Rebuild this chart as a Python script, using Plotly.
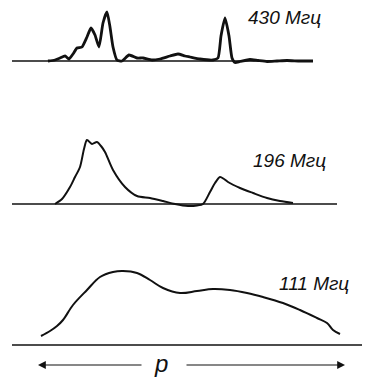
import plotly.graph_objects as go

# ---- data (position p, relative intensity) ----
p430_x = [48, 55, 60, 65, 69, 73, 77, 82, 87, 91, 95, 99, 103, 107, 110, 113, 117, 122,
          129, 137, 143, 152, 160, 170, 178, 185, 190, 200, 213, 218, 221, 225, 229, 232,
          235, 240, 250, 258, 267, 277, 287, 300, 313]
p430_y = [0, 1, 3, 5, 2, 7, 13, 14, 24, 33, 26, 14, 38, 49, 34, 14, 1, 0,
          6, 3, 3, 1, 2, 5, 7, 5, 4, 2, 1, 3, 25, 43, 25, 3,
          -1.5, -0.5, 1.5, 0.5, -0.5, 0, 0.5, 0, 0]

p196_x = [55, 62, 70, 75, 80, 84, 87, 92, 97, 101, 105, 113, 125, 137, 150, 163, 175,
          188, 197, 203, 210, 215, 220, 224, 228, 240, 253, 267, 280, 293]
p196_y = [0, 5, 17, 27, 37, 55, 64, 60, 62, 58, 52, 34, 17, 8, 6, 3, 0,
          -2, -1.5, 0, 12, 21, 27, 25, 22, 16, 11, 6, 3, 1]

p111_x = [41, 50, 57, 63, 73, 87, 100, 113, 123, 137, 150, 163, 180, 197, 213, 230,
          247, 263, 283, 300, 317, 327, 333, 340]
p111_y = [9, 14, 19, 25, 40, 55, 68, 73, 74, 72, 65, 57, 52, 54, 56, 55,
          52, 48, 42, 35, 27, 22, 15, 11]

labels = ["430 Мгц", "196 Мгц", "111 Мгц"]
baseline_start = [12, 12, 12]
baseline_end = [313, 337, 368]
axis_label = "p"

# the page body has an 8px margin, so the figure is shrunk by it
OFF = 8
W, H = 370 - OFF, 377 - OFF
INK = "#111111"


def py(ref_px):
    """reference pixel row -> paper y"""
    return 1 - (ref_px - OFF) / H


def px(ref_px):
    return (ref_px - OFF) / W


def pdom(top_px, bot_px):
    return [py(bot_px), py(top_px)]


fig = go.Figure()

series = [(p430_x, p430_y, "y", 2.8, 0.5),
          (p196_x, p196_y, "y2", 2.0, 0.8),
          (p111_x, p111_y, "y3", 2.0, 1.0)]
for i, (xs, ys, ya, lw, sm) in enumerate(series):
    fig.add_trace(go.Scatter(x=[baseline_start[i], baseline_end[i]], y=[0, 0], yaxis=ya,
                             mode="lines", line=dict(color=INK, width=1.5),
                             hoverinfo="skip", cliponaxis=False))
    fig.add_trace(go.Scatter(x=xs, y=ys, yaxis=ya, mode="lines",
                             line=dict(color=INK, width=lw, shape="spline", smoothing=sm),
                             cliponaxis=False))

ax_common = dict(visible=False, fixedrange=True)
fig.update_layout(
    width=W, height=H,
    margin=dict(l=0, r=0, t=0, b=0),
    paper_bgcolor="white", plot_bgcolor="white",
    showlegend=False,
    xaxis=dict(range=[OFF, 370], domain=[0, 1], **ax_common),
    yaxis=dict(range=[-9, 53], domain=pdom(8, 70), **ax_common),
    yaxis2=dict(range=[-11, 94], domain=pdom(110, 215), anchor="x", **ax_common),
    yaxis3=dict(range=[-7, 90], domain=pdom(255, 352), anchor="x", **ax_common),
)

font_lbl = dict(family="Liberation Sans, Arial, sans-serif", size=19, color=INK, style="italic")
label_pos = [(247, 17), (252, 160), (278, 283)]
for txt, (lx, ly) in zip(labels, label_pos):
    fig.add_annotation(text=txt, xref="paper", yref="paper", x=px(lx), y=py(ly),
                       xanchor="left", yanchor="middle", showarrow=False,
                       borderpad=0, font=font_lbl)

# p axis arrows
ya_arrow = py(365)
fig.add_annotation(x=38, y=ya_arrow, ax=143, ay=0, xref="x", yref="paper",
                   axref="x", ayref="pixel", text="", showarrow=True,
                   arrowhead=2, arrowsize=1.3, arrowwidth=1.2, arrowcolor=INK)
fig.add_annotation(x=345, y=ya_arrow, ax=185, ay=0, xref="x", yref="paper",
                   axref="x", ayref="pixel", text="", showarrow=True,
                   arrowhead=2, arrowsize=1.3, arrowwidth=1.2, arrowcolor=INK)
fig.add_annotation(text=axis_label, xref="x", yref="paper", x=161, y=py(363),
                   xanchor="center", yanchor="middle", showarrow=False,
                   borderpad=0,
                   font=dict(family="Liberation Sans, Arial, sans-serif", size=24,
                             color=INK, style="italic"))

fig.write_html("out.html")
